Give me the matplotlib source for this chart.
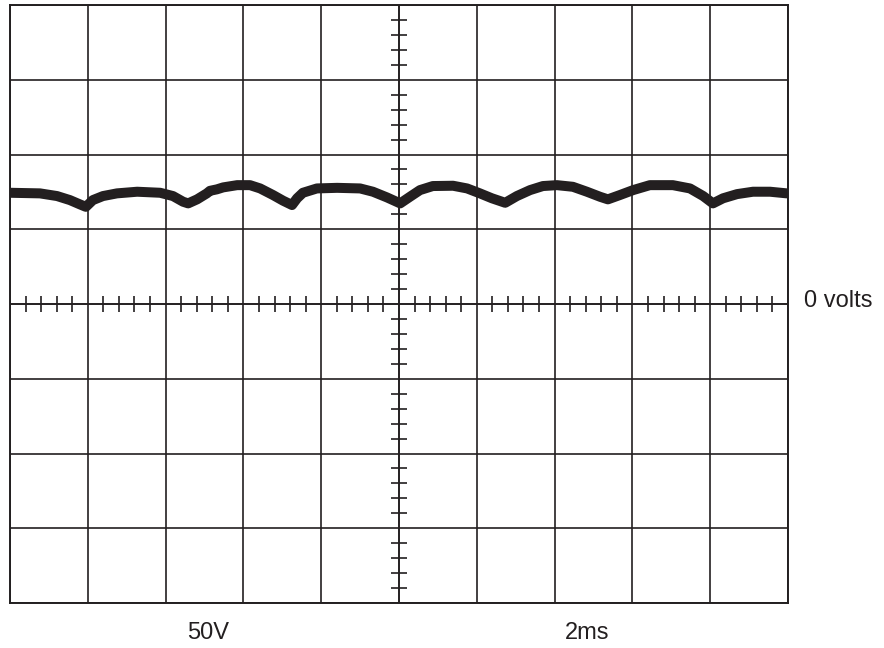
import numpy as np
import matplotlib.pyplot as plt

plt.rcParams['font.family'] = ['Liberation Sans', 'DejaVu Sans']

# scope settings: 2 ms/div horizontally, 50 V/div vertically
ms_per_div = 2
volts_per_div = 50
n_xdiv = 10
n_ydiv = 8

# trace (time in ms, voltage in V)
t_ms = [0.0, 0.77, 1.21, 1.54, 1.80, 1.95, 2.13, 2.39, 2.75, 3.27, 3.86,
        4.19, 4.45, 4.58, 4.81, 5.06, 5.14, 5.32, 5.48, 5.84, 6.17, 6.43,
        6.76, 7.02, 7.25, 7.38, 7.53, 7.89, 8.41, 9.00, 9.33, 9.69, 10.03,
        10.28, 10.54, 10.87, 11.39, 11.75, 12.08, 12.39, 12.73, 13.03,
        13.37, 13.70, 14.06, 14.47, 14.83, 15.17, 15.37, 15.68, 16.02,
        16.45, 17.04, 17.48, 17.82, 18.07, 18.33, 18.69, 19.10, 19.54, 19.97]
v_volts = [74.4, 74.0, 72.2, 69.5, 66.6, 65.0, 69.5, 72.2, 74.0, 75.1, 74.4,
           72.2, 68.4, 67.3, 70.0, 74.0, 75.7, 76.7, 78.0, 79.5, 79.5, 77.3,
           72.9, 69.1, 66.2, 70.7, 74.4, 77.3, 77.7, 77.3, 75.1, 71.3, 67.3,
           71.7, 76.2, 78.9, 79.1, 77.3, 74.0, 70.7, 67.7, 72.2, 76.2, 78.9,
           79.5, 78.4, 75.1, 71.7, 70.0, 72.9, 76.2, 79.5, 79.5, 77.3, 72.2,
           67.3, 70.7, 73.5, 75.1, 75.1, 74.0]

fig = plt.figure(figsize=(8.84, 6.48), dpi=100)
ax = fig.add_axes([10 / 884, 45 / 648, 778 / 884, 598 / 648])

xmax = n_xdiv * ms_per_div
ymax = n_ydiv / 2 * volts_per_div
ax.set_xlim(0, xmax)
ax.set_ylim(-ymax, ymax)

grid_col = '#231f20'
ax.set_xticks(np.arange(0, xmax + 1, ms_per_div))
ax.set_yticks(np.arange(-ymax, ymax + 1, volts_per_div))
ax.grid(True, color=grid_col, linewidth=1.2)
ax.tick_params(length=0, labelbottom=False, labelleft=False)
for s in ax.spines.values():
    s.set_color(grid_col)
    s.set_linewidth(1.4)

# center axes with fine graduations
xc = xmax / 2
ax.axhline(0, color=grid_col, lw=1.2)
ax.axvline(xc, color=grid_col, lw=1.2)
xt = np.arange(0, xmax, ms_per_div / 5)
xt = xt[~np.isclose(xt % ms_per_div, 0)]
yt = np.arange(-ymax, ymax, volts_per_div / 5)
yt = yt[~np.isclose(yt % volts_per_div, 0)]
ax.plot(xt, np.zeros_like(xt), ls='none', marker='|', ms=12, mew=1.2, color=grid_col)
ax.plot(np.full_like(yt, xc), yt, ls='none', marker='_', ms=12, mew=1.2, color=grid_col)

ax.plot(t_ms, v_volts, color=grid_col, lw=7.2, solid_capstyle='round',
        solid_joinstyle='round', zorder=5)

ax.text(1.02, 0.505, '0 volts', transform=ax.transAxes, ha='left', va='center',
        fontsize=17, color=grid_col)
ax.text(2.55 * ms_per_div, -ymax - 0.4 * volts_per_div, '50V', ha='center', va='center',
        fontsize=17, color=grid_col, clip_on=False)
ax.text(7.42 * ms_per_div, -ymax - 0.4 * volts_per_div, '2ms', ha='center', va='center',
        fontsize=17, color=grid_col, clip_on=False)

fig.savefig('out.png', dpi=100)
